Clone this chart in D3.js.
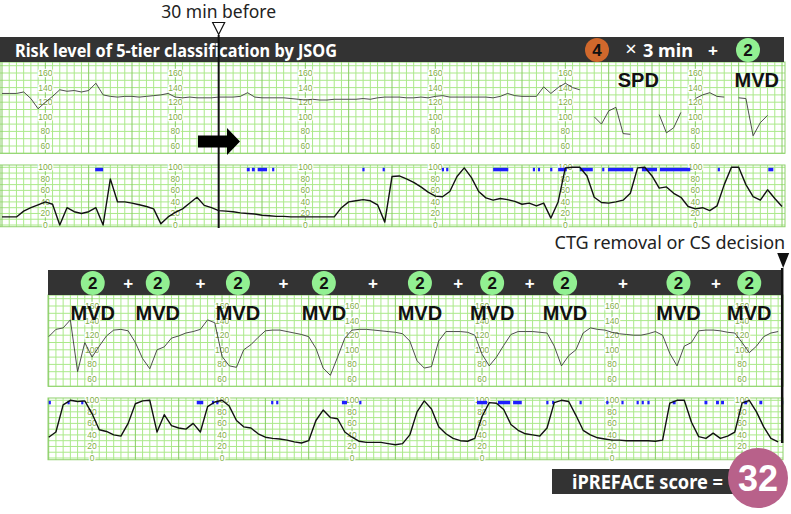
<!DOCTYPE html>
<html>
<head>
<meta charset="utf-8">
<script src="https://cdn.jsdelivr.net/npm/d3@7"></script>
<style>
  body { margin: 0; background: #fff; }
  svg { display: block; }
  .lbl { font-family: "Liberation Sans", Arial, sans-serif; font-size: 8.5px; fill: #7fb043;
         stroke: #fff; stroke-width: 2.5px; paint-order: stroke; text-anchor: middle; dominant-baseline: central; }
</style>
</head>
<body>
<svg id="chart" width="791" height="514"></svg>
<script>
// ---------------------------------------------------------------------------
// Data (time in seconds, 10 s per sample)
// ---------------------------------------------------------------------------

// upper record, FHR (bpm), null = signal loss
var fhrTop = [132,132,132,134,125,111,120,128,137,135,
  136,134,136,146,130,128,127,128,128,127,
  128,129,130,132,127,126,127,126,126,126,
  127,127,127,128,133,127,126,126,126,126,
  125,124,123,124,123,123,124,124,124,124,
  125,124,126,127,127,127,126,126,127,126,
  128,129,127,127,127,127,127,127,126,128,
  132,129,128,128,128,141,132,140,146,140,
  137,null,100,90,108,113,77,76,null,null,
  null,103,78,85,106,null,125,130,133,128,
  127,null,126,125,74,92,102,null,118];

// upper record, uterine contraction (toco)
var tocoTop = [14,14,14,24,30,35,40,36,0,30,
  23,20,23,30,0,80,40,40,38,35,
  32,28,2,14,22,28,38,48,34,30,
  25,24,23,21,20,19,17,16,15,15,
  14,14,14,14,14,14,14,30,40,42,
  44,42,35,5,84,85,80,74,66,57,
  50,49,58,84,99,82,58,47,43,46,
  44,41,36,38,33,38,12,40,99,100,
  100,85,48,39,38,40,43,55,99,100,
  85,64,66,55,48,32,28,30,25,33,
  70,100,100,70,49,43,61,46,32];

// fetal movement marks [start s, end s]
var moveTop = [[129,140],[339,343],[346,350],[354,367],[374,377],[499,502],[527,530],
  [609,612],[615,618],[680,701],[735,738],[742,745],[759,762],[770,782],[800,818],
  [831,834],[839,874],[886,907],[911,953],[991,994],[1061,1068]];

// lower record (continues up to CTG removal)
var fhrBottom = [118,128,130,141,70,110,90,105,119,127,
  128,126,110,88,74,100,104,116,119,123,
  125,128,141,137,91,78,76,100,107,117,
  126,127,127,125,123,121,118,102,75,65,
  90,116,127,128,128,127,126,125,124,122,
  112,85,75,77,112,125,125,125,124,120,
  94,78,90,106,121,125,125,125,124,123,
  105,78,92,100,123,130,128,127,124,122,
  121,120,120,122,125,120,95,78,105,110,
  126,127,127,126,124,123,110,96,105,118,
  123,125];

var tocoBottom = [36,45,92,100,98,99,77,49,46,40,
  38,60,94,99,100,45,75,56,52,50,
  60,45,89,97,100,90,65,54,52,42,
  36,34,33,31,28,26,30,65,83,70,
  68,45,36,29,27,27,27,25,23,25,
  40,80,99,85,54,42,34,30,29,34,
  72,96,95,84,58,48,42,40,38,52,
  96,100,98,74,48,40,35,33,31,31,
  30,30,30,30,29,31,95,100,100,62,
  37,34,43,34,38,45,95,100,80,54,
  34,28];

var moveBottom = [[0,3],[26,29],[45,48],[205,214],[226,229],[232,235],[308,311],[315,318],
  [406,413],[430,433],[593,607],[622,639],[643,655],[689,692],[697,700],[735,738],
  [772,775],[793,796],[814,817],[821,824],[829,832],[864,868],[908,912],[924,928],
  [931,935],[963,967],[984,988],[1014,1017]];

var fhrTicks = [160, 140, 120, 100, 80, 60];
var tocoTicks = [100, 80, 60, 40, 20, 0];
var labelTimes = [60, 240, 420, 600, 780, 960];

// annotations
var topEvents = [{t: 881, text: "SPD"}, {t: 1045, text: "MVD"}];
var bottomScoreTimes = [61, 151, 262, 381, 514, 614, 715, 872, 970];
var bottomPlusTimes = [110, 210, 325, 449, 567, 666, 795, 924];
var markTime = 300;       // 30 min before
var totalScore = 32;

// ---------------------------------------------------------------------------
// Scales
// ---------------------------------------------------------------------------
var SAMPLE = 10;
var xTop = d3.scaleLinear().domain([0, 1084]).range([2, 784.9]);
var xBottom = d3.scaleLinear().domain([0, 1017]).range([48.7, 783.2]);

function fhrScale(off) {
  return d3.scaleLinear().domain([60, 160]).range([146 + off, 73 + off]);
}
function tocoScale(off) {
  return d3.scaleLinear().domain([0, 100]).range([225 + off, 167.3 + off]);
}

var svg = d3.select("#chart");

function drawStrip(x, y, x0, x1, vMin, vMax, ticks, values, moves, traceColor, traceWidth) {
  var g = svg.append("g");
  var yTop = y(vMax), yBot = y(vMin);

  g.append("rect")
      .attr("x", x0).attr("y", yTop)
      .attr("width", x1 - x0).attr("height", yBot - yTop)
      .attr("fill", "#fff");

  // horizontal grid every 10 units
  var hv = d3.range(Math.ceil(vMin / 10) * 10, vMax, 10);
  g.selectAll(".h").data(hv).enter().append("line")
      .attr("x1", x0).attr("x2", x1)
      .attr("y1", function(d) { return y(d); })
      .attr("y2", function(d) { return y(d); })
      .attr("stroke", "#abe98a").attr("stroke-width", 1);

  // vertical grid: 10 s minor, 1 min major
  var t0 = Math.ceil(x.invert(x0) / 10) * 10;
  var vt = d3.range(t0, x.invert(x1), 10);
  g.selectAll(".v").data(vt).enter().append("line")
      .attr("x1", function(d) { return x(d); })
      .attr("x2", function(d) { return x(d); })
      .attr("y1", yTop).attr("y2", yBot)
      .attr("stroke", function(d) { return d % 60 === 0 ? "#86cc62" : "#abe98a"; })
      .attr("stroke-width", 1);

  g.append("rect")
      .attr("x", x0).attr("y", yTop)
      .attr("width", x1 - x0).attr("height", yBot - yTop)
      .attr("fill", "none").attr("stroke", "#8fd16d").attr("stroke-width", 1);

  // scale labels
  labelTimes.forEach(function(t) {
    g.selectAll(null).data(ticks).enter().append("text")
        .attr("class", "lbl")
        .attr("x", x(t)).attr("y", function(d) { return y(d); })
        .text(function(d) { return d; });
  });

  if (moves) {
    g.selectAll(".mv").data(moves).enter().append("rect")
        .attr("x", function(d) { return x(d[0]); })
        .attr("width", function(d) { return Math.max(2, x(d[1]) - x(d[0])); })
        .attr("y", y(100) + 0.5).attr("height", 3.5)
        .attr("fill", "#1e1eff");
  }

  var line = d3.line()
      .defined(function(d) { return d != null; })
      .x(function(d, i) { return x(i * SAMPLE); })
      .y(function(d) { return y(d); });

  g.append("path")
      .datum(values)
      .attr("d", line)
      .attr("fill", "none")
      .attr("stroke", traceColor)
      .attr("stroke-width", traceWidth)
      .attr("stroke-linejoin", "round");
}

function badge(cx, cy, r, fill, label, textFill, size) {
  svg.append("circle").attr("cx", cx).attr("cy", cy).attr("r", r).attr("fill", fill);
  svg.append("text")
      .attr("x", cx).attr("y", cy + size * 0.36)
      .attr("text-anchor", "middle")
      .attr("font-family", "Liberation Sans, Arial, sans-serif")
      .attr("font-weight", "bold").attr("font-size", size)
      .attr("fill", textFill)
      .text(label);
}

// ---------------------------------------------------------------------------
// Upper record
// ---------------------------------------------------------------------------
drawStrip(xTop, fhrScale(0), 0, 785, 50, 175, fhrTicks, fhrTop, null, "#3a3a3a", 0.9);
drawStrip(xTop, tocoScale(0), 0, 785, -3, 104, tocoTicks, tocoTop, moveTop, "#111", 1.4);

svg.append("rect").attr("x", 0).attr("y", 37).attr("width", 784).attr("height", 25).attr("fill", "#333");
svg.append("text")
    .attr("x", 15).attr("y", 57)
    .attr("font-family", "Noto Sans, sans-serif").attr("font-weight", "bold").attr("font-size", 17.5)
    .attr("textLength", 322).attr("lengthAdjust", "spacingAndGlyphs")
    .attr("fill", "#fff")
    .text("Risk level of 5-tier classification by JSOG");

badge(597, 50, 12, "#d0682c", "4", "#111", 17);
svg.append("text").attr("x", 631).attr("y", 56)
    .attr("text-anchor", "middle")
    .attr("font-family", "Noto Sans, sans-serif").attr("font-size", 20).attr("fill", "#fff")
    .text("×");
svg.append("text").attr("x", 643).attr("y", 57)
    .attr("font-family", "Noto Sans, sans-serif").attr("font-weight", "bold").attr("font-size", 18)
    .attr("textLength", 50).attr("lengthAdjust", "spacingAndGlyphs")
    .attr("fill", "#fff").text("3 min");
svg.append("text").attr("x", 713).attr("y", 56)
    .attr("text-anchor", "middle")
    .attr("font-family", "Liberation Sans, Arial, sans-serif").attr("font-weight", "bold").attr("font-size", 17)
    .attr("fill", "#fff").text("+");
badge(748, 50, 12, "#92f092", "2", "#111", 17);

topEvents.forEach(function(e) {
  svg.append("text")
      .attr("x", xTop(e.t)).attr("y", 87)
      .attr("text-anchor", "middle")
      .attr("font-family", "Liberation Sans, Arial, sans-serif").attr("font-weight", "bold").attr("font-size", 20)
      .attr("fill", "#111").text(e.text);
});

// 30 min before marker
var xm = xTop(markTime);
svg.append("text").attr("x", xm).attr("y", 18)
    .attr("text-anchor", "middle")
    .attr("font-family", "Noto Sans, sans-serif").attr("font-size", 17.5).attr("fill", "#222")
    .text("30 min before");
svg.append("path")
    .attr("d", "M" + (xm - 6) + ",22.5 L" + (xm + 6) + ",22.5 L" + xm + ",34.5 Z")
    .attr("fill", "#fff").attr("stroke", "#111").attr("stroke-width", 1.2);
svg.append("line").attr("x1", xm).attr("x2", xm).attr("y1", 35).attr("y2", 228)
    .attr("stroke", "#111").attr("stroke-width", 2);
svg.append("path")
    .attr("d", "M198,135.5 L227,135.5 L227,128 L240,141.5 L227,155 L227,147.5 L198,147.5 Z")
    .attr("fill", "#000");

// ---------------------------------------------------------------------------
// Lower record
// ---------------------------------------------------------------------------
drawStrip(xBottom, fhrScale(233), 48, 783, 50, 175, fhrTicks, fhrBottom, null, "#3a3a3a", 0.9);
drawStrip(xBottom, tocoScale(233), 48, 783, -3, 104, tocoTicks, tocoBottom, moveBottom, "#111", 1.4);

svg.append("rect").attr("x", 48).attr("y", 270).attr("width", 735).attr("height", 25).attr("fill", "#333");

bottomScoreTimes.forEach(function(t) {
  badge(xBottom(t), 283, 12, "#92f092", "2", "#111", 17);
  svg.append("text")
      .attr("x", xBottom(t)).attr("y", 320)
      .attr("text-anchor", "middle")
      .attr("font-family", "Liberation Sans, Arial, sans-serif").attr("font-weight", "bold").attr("font-size", 20)
      .attr("fill", "#111").text("MVD");
});
bottomPlusTimes.forEach(function(t) {
  svg.append("text")
      .attr("x", xBottom(t)).attr("y", 289)
      .attr("text-anchor", "middle")
      .attr("font-family", "Liberation Sans, Arial, sans-serif").attr("font-weight", "bold").attr("font-size", 17)
      .attr("fill", "#fff").text("+");
});

var xe = xBottom(1017);
svg.append("text").attr("x", xe + 2).attr("y", 249)
    .attr("text-anchor", "end")
    .attr("font-family", "Noto Sans, sans-serif").attr("font-size", 18).attr("fill", "#222")
    .text("CTG removal or CS decision");
svg.append("path")
    .attr("d", "M" + (xe - 6) + ",253 L" + (xe + 6) + ",253 L" + xe + ",268 Z")
    .attr("fill", "#111");
svg.append("line").attr("x1", xe - 1).attr("x2", xe - 1).attr("y1", 268).attr("y2", 443)
    .attr("stroke", "#111").attr("stroke-width", 2.5);

// ---------------------------------------------------------------------------
// Score
// ---------------------------------------------------------------------------
svg.append("rect").attr("x", 552).attr("y", 469).attr("width", 200).attr("height", 25).attr("fill", "#333");
svg.append("text").attr("x", 572).attr("y", 489)
    .attr("font-family", "Noto Sans, sans-serif").attr("font-weight", "bold").attr("font-size", 20)
    .attr("textLength", 151).attr("lengthAdjust", "spacingAndGlyphs")
    .attr("fill", "#fff").text("iPREFACE score =");
badge(758, 478, 30, "#b8618a", String(totalScore), "#fff", 36);
</script>
</body>
</html>
